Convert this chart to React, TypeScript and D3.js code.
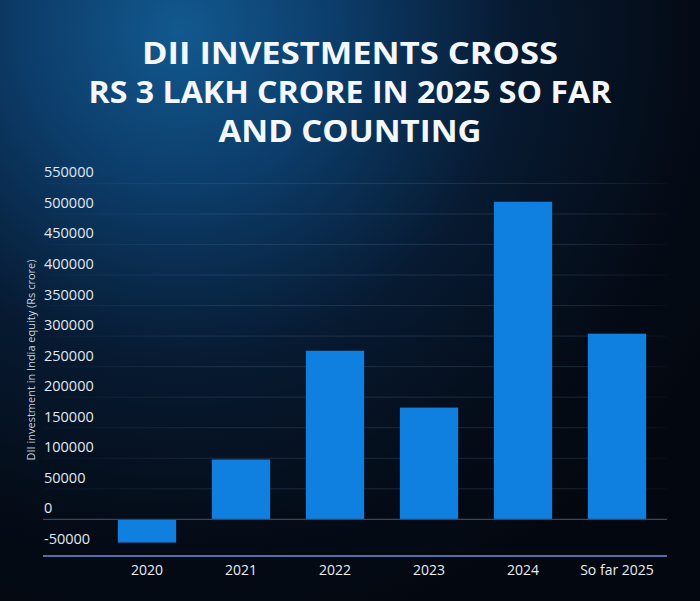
import React from 'react';
import * as d3 from 'd3';

const titleLines = ['DII INVESTMENTS CROSS', 'RS 3 LAKH CRORE IN 2025 SO FAR', 'AND COUNTING'];
const categories = ['2020', '2021', '2022', '2023', '2024', 'So far 2025'];
const values = [-38000, 98000, 276000, 183000, 520000, 304000];
const yTicks = [-50000, 0, 50000, 100000, 150000, 200000, 250000, 300000, 350000, 400000, 450000, 500000, 550000];
const yTitle = 'DII investment in India equity (Rs crore)';

const W = 700;
const H = 601;

const App: React.FC = () => {
  const x = d3.scaleBand<string>()
    .domain(categories)
    .range([100, 664])
    .paddingInner(0.38)
    .paddingOuter(0.19);

  const y = d3.scaleLinear()
    .domain([-60000, 550000])
    .range([556, 183.4]);

  const lineX0 = 43;
  const lineX1 = 667;
  const titleWidths = [416, 523, 263];
  const titleBase = [64, 103, 142];

  return (
    <svg width={W} height={H} style={{ position: 'absolute', top: 0, left: 0, display: 'block' }}>
      <defs>
        <radialGradient id="bg" cx="180" cy="30" r="640" gradientUnits="userSpaceOnUse">
          <stop offset="0" stopColor="#12598f" />
          <stop offset="0.25" stopColor="#0c3c69" />
          <stop offset="0.52" stopColor="#071a31" />
          <stop offset="0.8" stopColor="#040b16" />
          <stop offset="1" stopColor="#03070f" />
        </radialGradient>
        <linearGradient id="grid" x1={lineX0} x2={lineX1} y1="0" y2="0" gradientUnits="userSpaceOnUse">
          <stop offset="0" stopColor="#5a7391" stopOpacity="0.03" />
          <stop offset="0.3" stopColor="#5a7391" stopOpacity="0.26" />
          <stop offset="0.85" stopColor="#5a7391" stopOpacity="0.26" />
          <stop offset="1" stopColor="#5a7391" stopOpacity="0.06" />
        </linearGradient>
      </defs>
      <rect x={0} y={0} width={W} height={H} fill="url(#bg)" />

      {titleLines.map((t, i) => (
        <text
          key={t}
          x={W / 2}
          y={titleBase[i]}
          textAnchor="middle"
          fontFamily="'Open Sans', sans-serif"
          fontWeight={700}
          fontSize={31}
          fill="#f4f8fc"
          textLength={titleWidths[i]}
          lengthAdjust="spacingAndGlyphs"
        >
          {t}
        </text>
      ))}

      {yTicks.filter((v) => v > 0).map((v) => (
        <line key={v} x1={lineX0} x2={lineX1} y1={y(v)} y2={y(v)} stroke="url(#grid)" strokeWidth={1} />
      ))}

      {values.map((v, i) => (
        <rect
          key={categories[i]}
          x={x(categories[i])}
          y={Math.min(y(v), y(0))}
          width={x.bandwidth()}
          height={Math.abs(y(v) - y(0))}
          fill="#0f7fe0"
        />
      ))}

      <line x1={lineX0} x2={lineX1} y1={y(0)} y2={y(0)} stroke="#3c4654" strokeWidth={1.2} />
      <line x1={lineX0} x2={lineX1} y1={y(-60000)} y2={y(-60000)} stroke="#4f6fa6" strokeWidth={2} />

      {yTicks.map((v) => (
        <text
          key={v}
          x={44}
          y={y(v) - 6}
          fontFamily="'Open Sans', sans-serif"
          fontSize={14.5}
          fill="#e0e8f2"
        >
          {v}
        </text>
      ))}

      {categories.map((c) => (
        <text
          key={c}
          x={(x(c) ?? 0) + x.bandwidth() / 2}
          y={575}
          textAnchor="middle"
          fontFamily="'Open Sans', sans-serif"
          fontSize={14}
          fill="#e8eef5"
        >
          {c}
        </text>
      ))}

      <text
        transform="translate(35,360) rotate(-90)"
        textAnchor="middle"
        fontFamily="'Open Sans', sans-serif"
        fontSize={11}
        fill="#c3d0de"
      >
        {yTitle}
      </text>
    </svg>
  );
};

export default App;
